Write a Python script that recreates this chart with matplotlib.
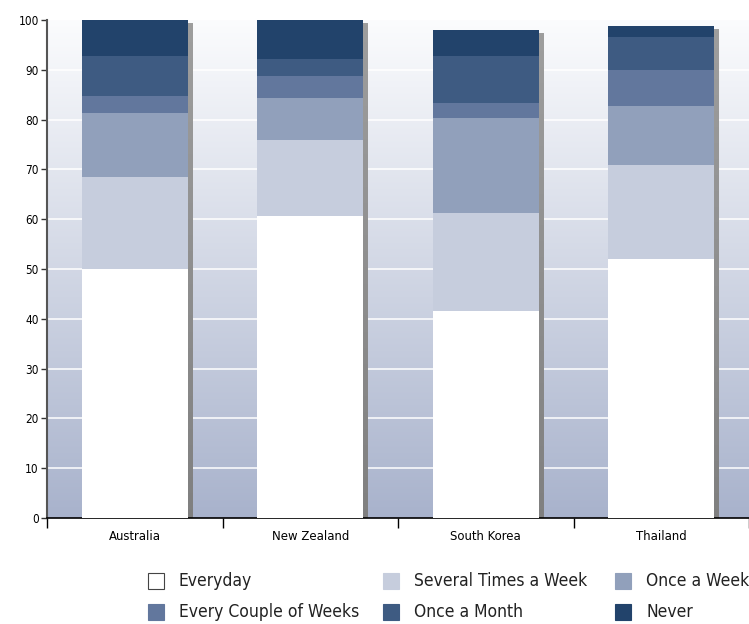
import matplotlib
matplotlib.use("Agg")
import matplotlib.pyplot as plt
import numpy as np
from matplotlib.patches import Rectangle

plt.rcParams['font.family'] = ['DejaVu Sans']
plt.rcParams['font.stretch'] = 'condensed'

countries = ['Australia', 'New Zealand', 'South Korea', 'Thailand']
series = ['Everyday', 'Several Times a Week', 'Once a Week',
          'Every Couple of Weeks', 'Once a Month', 'Never']
everyday = [50.1, 60.6, 41.6, 52.0]
several = [18.4, 15.3, 19.6, 18.9]
once_week = [12.8, 8.4, 19.1, 11.8]
couple = [3.4, 4.5, 3.0, 7.3]
once_month = [8.1, 3.4, 9.5, 6.6]
never = [7.2, 7.8, 5.2, 2.2]

colors = ['#ffffff', '#c6cddd', '#91a0bb', '#62779d', '#3e5b82', '#22436b']

fig = plt.figure(figsize=(7.49, 6.24), dpi=100)
ax = fig.add_axes([47 / 749, 106 / 624, 702 / 749, 498 / 624])

# gradient background
grad = np.linspace(0, 1, 256).reshape(-1, 1)
top = np.array([0.985, 0.988, 0.995])
bot = np.array([0.66, 0.70, 0.80])
img = top + (bot - top) * grad[:, :, None]
ax.imshow(img, extent=[-0.5, 3.5, 0, 100], origin='upper', aspect='auto', zorder=0)

ax.set_xlim(-0.5, 3.5)
ax.set_ylim(0, 100)

for yv in range(10, 100, 10):
    ax.axhline(yv, color='white', lw=1.3, alpha=0.85, zorder=1)

x = np.arange(len(countries))
w = 0.604
data = [everyday, several, once_week, couple, once_month, never]
bottom = np.zeros(len(countries))
for vals, c in zip(data, colors):
    ax.bar(x, vals, w, bottom=bottom, color=c, zorder=3, linewidth=0)
    bottom += np.array(vals)

# bar shadows (gray gradient strip)
sh = np.linspace(0.62, 0.50, 256).reshape(-1, 1)
for xi, tot in zip(x, bottom):
    ax.imshow(np.repeat(sh[:, :, None], 3, axis=2),
              extent=[xi + w / 2, xi + w / 2 + 0.023, 0, tot - 0.8],
              origin='upper', aspect='auto', zorder=2)
ax.set_xlim(-0.5, 3.5)
ax.set_ylim(0, 100)

ax.spines['top'].set_visible(False)
ax.spines['right'].set_visible(False)
ax.spines['left'].set_color('#555555')
ax.spines['left'].set_linewidth(1.5)
ax.spines['bottom'].set_color('black')
ax.spines['bottom'].set_linewidth(1.2)

ax.set_yticks(range(0, 101, 10))
ax.tick_params(axis='y', length=4, width=1, color='#333333', labelsize=8.5, pad=2)
ax.set_xticks([-0.5, 0.5, 1.5, 2.5, 3.5])
ax.set_xticklabels([])
ax.tick_params(axis='x', which='major', length=7, width=1, color='black')
ax.set_xticks(x, minor=True)
ax.set_xticklabels(countries, minor=True)
ax.tick_params(axis='x', which='minor', length=0, labelsize=9.4, pad=9)

# legend
legend_pos = [(148, 581), (383, 581), (615, 581),
              (148, 612), (383, 612), (615, 612)]
for (px, py), name, c in zip(legend_pos, series, colors):
    ec = '#444444' if c == '#ffffff' else c
    fig.patches.append(Rectangle((px / 749, 1 - (py + 8) / 624), 16 / 749, 16 / 624,
                                 facecolor=c, edgecolor=ec, lw=0.8,
                                 transform=fig.transFigure, figure=fig))
    fig.text((px + 31) / 749, 1 - py / 624, name, fontsize=12.5,
             va='center', ha='left', color='#222222')

fig.savefig('out.png', dpi=100)
